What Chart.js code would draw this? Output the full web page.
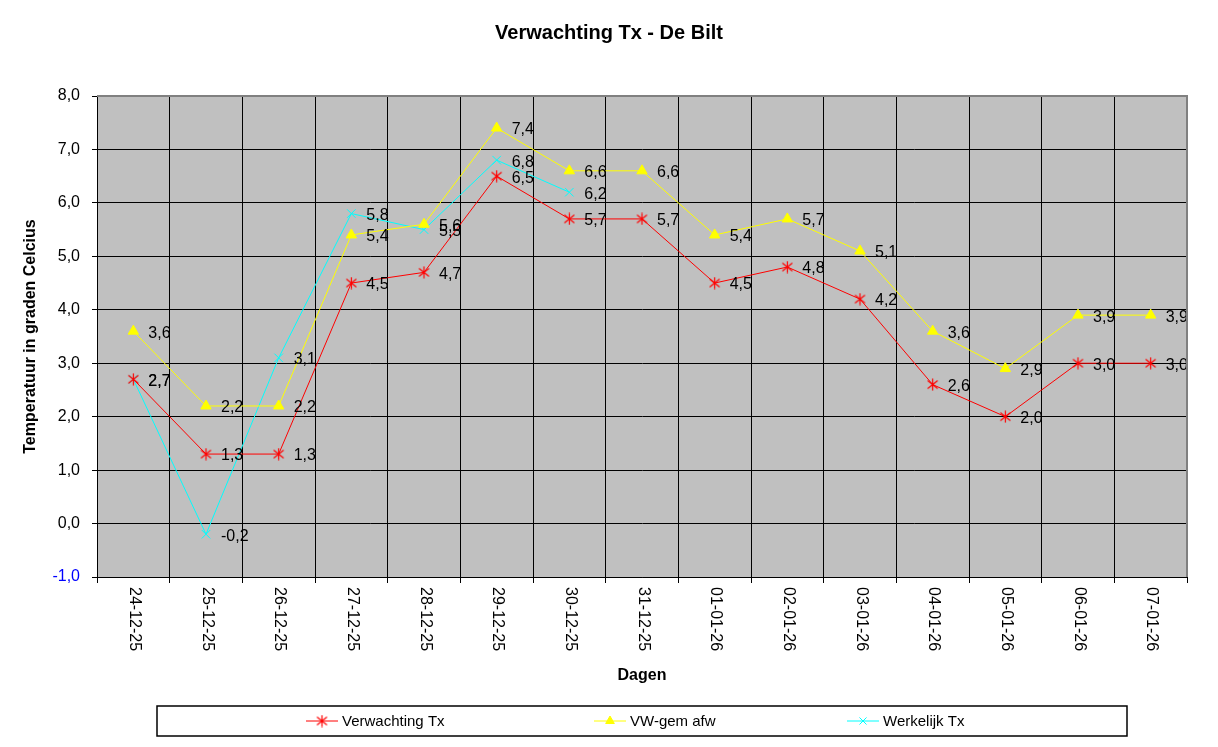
<!DOCTYPE html>
<html>
<head>
<meta charset="utf-8">
<script src="https://cdn.jsdelivr.net/npm/chart.js@4/dist/chart.umd.min.js"></script>
<style>
  html, body { margin: 0; padding: 0; background: #fff; }
  canvas { display: block; }
</style>
</head>
<body>
<canvas id="chart" width="1218" height="747"></canvas>
<script>
const days = ["24-12-25", "25-12-25", "26-12-25", "27-12-25", "28-12-25", "29-12-25", "30-12-25",
  "31-12-25", "01-01-26", "02-01-26", "03-01-26", "04-01-26", "05-01-26", "06-01-26", "07-01-26"];
const verwachting = [2.7, 1.3, 1.3, 4.5, 4.7, 6.5, 5.7, 5.7, 4.5, 4.8, 4.2, 2.6, 2.0, 3.0, 3.0];
const vwGemAfw = [3.6, 2.2, 2.2, 5.4, 5.6, 7.4, 6.6, 6.6, 5.4, 5.7, 5.1, 3.6, 2.9, 3.9, 3.9];
const werkelijk = [2.7, -0.2, 3.1, 5.8, 5.5, 6.8, 6.2, null, null, null, null, null, null, null, null];

const FONT = "Arial, 'Liberation Sans', sans-serif";

function fmt(v) {
  return v.toFixed(1).replace(".", ",");
}

// excel style asterisk marker: vertical bar plus an x
function makeStar(color) {
  const c = document.createElement("canvas");
  c.width = 13;
  c.height = 13;
  const g = c.getContext("2d");
  g.strokeStyle = color;
  g.lineWidth = 1.2;
  g.beginPath();
  g.moveTo(6.5, 0.5); g.lineTo(6.5, 12.5);
  g.moveTo(1.5, 2.5); g.lineTo(11.5, 10.5);
  g.moveTo(11.5, 2.5); g.lineTo(1.5, 10.5);
  g.stroke();
  return c;
}
const redStar = makeStar("#ff0000");

// grey plot background and grey top/right border
const plotArea = {
  id: "plotArea",
  beforeDraw(chart) {
    const a = chart.chartArea;
    const ctx = chart.ctx;
    ctx.save();
    ctx.fillStyle = "#c0c0c0";
    ctx.fillRect(a.left, a.top, a.right - a.left, a.bottom - a.top);
    ctx.restore();
  },
  afterDraw(chart) {
    const a = chart.chartArea;
    const ctx = chart.ctx;
    ctx.save();
    ctx.strokeStyle = "#808080";
    ctx.lineWidth = 2;
    ctx.beginPath();
    ctx.moveTo(a.left, a.top);
    ctx.lineTo(a.right, a.top);
    ctx.lineTo(a.right, a.bottom);
    ctx.stroke();
    // title, centred on the whole page
    ctx.fillStyle = "#000";
    ctx.font = "bold 20px " + FONT;
    ctx.textAlign = "center";
    ctx.textBaseline = "middle";
    ctx.fillText("Verwachting Tx - De Bilt", 609, 33);
    ctx.restore();
  }
};

// value labels to the right of each point
const valueLabels = {
  id: "valueLabels",
  afterDatasetsDraw(chart) {
    const ctx = chart.ctx;
    ctx.save();
    ctx.font = "16px " + FONT;
    ctx.fillStyle = "#000";
    ctx.textAlign = "left";
    ctx.textBaseline = "middle";
    chart.data.datasets.forEach((ds, i) => {
      const meta = chart.getDatasetMeta(i);
      meta.data.forEach((pt, j) => {
        const v = ds.data[j];
        if (v === null || v === undefined) return;
        ctx.fillText(fmt(v), pt.x + 15, pt.y + 2);
      });
    });
    ctx.restore();
  }
};

// x labels rotated clockwise, reading top to bottom
const dayLabels = {
  id: "dayLabels",
  afterDraw(chart) {
    const ctx = chart.ctx;
    const xs = chart.scales.x;
    ctx.save();
    ctx.font = "16px " + FONT;
    ctx.fillStyle = "#000";
    ctx.textAlign = "left";
    ctx.textBaseline = "middle";
    days.forEach((d, i) => {
      const x = xs.getPixelForValue(i);
      ctx.save();
      ctx.translate(x + 1, chart.chartArea.bottom + 10);
      ctx.rotate(Math.PI / 2);
      ctx.fillText(d, 0, 0);
      ctx.restore();
    });
    ctx.restore();
  }
};

// legend box at the bottom
const boxLegend = {
  id: "boxLegend",
  afterDraw(chart) {
    const ctx = chart.ctx;
    ctx.save();
    ctx.strokeStyle = "#000";
    ctx.lineWidth = 1.5;
    ctx.strokeRect(157, 706, 970, 30);
    const items = [[306, 0], [594, 1], [847, 2]];
    ctx.font = "15px " + FONT;
    ctx.textBaseline = "middle";
    ctx.textAlign = "left";
    items.forEach(([x, i]) => {
      const ds = chart.data.datasets[i];
      const y = 721;
      ctx.strokeStyle = ds.borderColor;
      ctx.fillStyle = ds.pointBackgroundColor;
      ctx.lineWidth = 1;
      ctx.beginPath();
      ctx.moveTo(x, y);
      ctx.lineTo(x + 32, y);
      ctx.stroke();
      Chart.helpers.drawPoint(ctx, {
        pointStyle: ds.pointStyle, radius: 5, rotation: 0, borderWidth: 1
      }, x + 16, y);
      ctx.fillStyle = "#000";
      ctx.fillText(ds.label, x + 36, y + 1);
    });
    ctx.restore();
  }
};

new Chart(document.getElementById("chart"), {
  type: "line",
  data: {
    labels: days,
    datasets: [
      {
        label: "Verwachting Tx",
        data: verwachting,
        borderColor: "#ff0000",
        backgroundColor: "#ff0000",
        pointBackgroundColor: "#ff0000",
        pointBorderColor: "#ff0000",
        pointStyle: redStar,
        pointRadius: 6,
        borderWidth: 1,
        tension: 0
      },
      {
        label: "VW-gem afw",
        data: vwGemAfw,
        borderColor: "#ffff00",
        backgroundColor: "#ffff00",
        pointBackgroundColor: "#ffff00",
        pointBorderColor: "#ffff00",
        pointStyle: "triangle",
        pointRadius: 6,
        borderWidth: 1,
        tension: 0
      },
      {
        label: "Werkelijk Tx",
        data: werkelijk,
        borderColor: "#00ffff",
        backgroundColor: "#00ffff",
        pointBackgroundColor: "#00ffff",
        pointBorderColor: "#00ffff",
        pointStyle: "crossRot",
        pointRadius: 6,
        borderWidth: 1,
        tension: 0,
        spanGaps: false
      }
    ]
  },
  options: {
    responsive: false,
    animation: false,
    layout: { padding: { left: 0, right: 31, top: 96, bottom: 47 } },
    plugins: {
      legend: { display: false },
      tooltip: { enabled: false },
      title: { display: false }
    },
    scales: {
      x: {
        offset: true,
        grid: { offset: true, color: "#000", lineWidth: 1, tickLength: 6, drawTicks: true },
        border: { color: "#000", width: 1 },
        ticks: { display: false },
        title: {
          display: true,
          text: "Dagen",
          color: "#000",
          font: { family: FONT, size: 16, weight: "bold" },
          padding: { top: 0, bottom: 15 }
        },
        afterFit(scale) { scale.height = 123; }
      },
      y: {
        min: -1,
        max: 8,
        grid: { color: "#000", lineWidth: 1, tickLength: 5 },
        border: { color: "#000", width: 1 },
        ticks: {
          stepSize: 1,
          padding: 12,
          font: { family: FONT, size: 16 },
          color: (c) => (c.tick && c.tick.value < 0 ? "#0000ff" : "#000"),
          callback: (v) => fmt(v)
        },
        title: {
          display: true,
          text: "Temperatuur in graden Celcius",
          color: "#000",
          font: { family: FONT, size: 16, weight: "bold" },
          padding: { top: 21, bottom: 0 }
        },
        afterFit(scale) { scale.width = 97; }
      }
    }
  },
  plugins: [plotArea, valueLabels, dayLabels, boxLegend]
});
</script>
</body>
</html>
